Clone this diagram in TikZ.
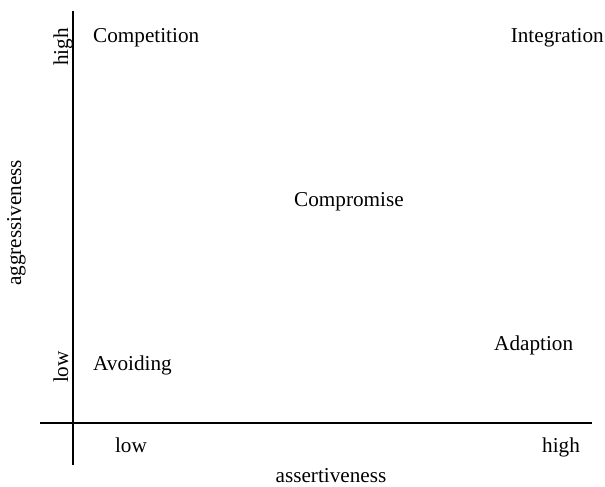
\documentclass[tikz,border=0pt]{standalone}
\usepackage{fontspec}
\setmainfont{Liberation Serif}
\begin{document}
\begin{tikzpicture}[x=1pt,y=-1pt,
  lbl/.style={inner sep=0pt,font=\fontsize{21.2}{25}\selectfont},
  axis/.style={line width=1.5pt}]
\useasboundingbox (0,0) rectangle (605,487);
\coordinate (ytop) at (73,11);
\coordinate (ybot) at (73,465);
\coordinate (xl) at (40,423);
\coordinate (xr) at (592,423);
\draw[axis] (ytop) -- (ybot);
\draw[axis] (xl) -- (xr);
\node[lbl,anchor=base west] (comp) at (93,43) {Competition};
\node[lbl,anchor=base east] (integ) at (604,43) {Integration};
\node[lbl,anchor=base] (compr) at (349,206) {Compromise};
\node[lbl,anchor=base west] (adapt) at (494,350) {Adaption};
\node[lbl,anchor=base west] (avoid) at (93,370) {Avoiding};
\node[lbl,anchor=base] (xlow) at (131,452) {low};
\node[lbl,anchor=base] (xhigh) at (561,452) {high};
\node[lbl,anchor=base] (xlab) at (331,482) {assertiveness};
\node[lbl,anchor=base,rotate=90] (yhigh) at (68,47) {high};
\node[lbl,anchor=base,rotate=90] (ylow) at (68,367) {low};
\node[lbl,anchor=base,rotate=90] (ylab) at (21,223) {aggressiveness};
\end{tikzpicture}
\end{document}
